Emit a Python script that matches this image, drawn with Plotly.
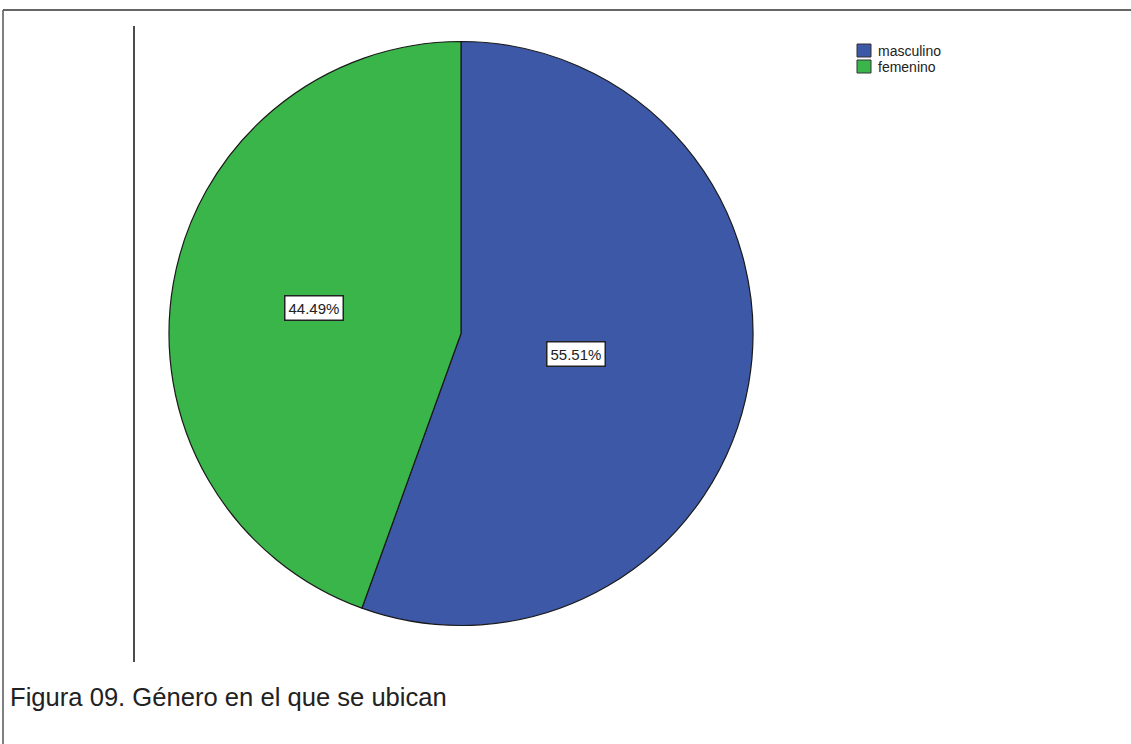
import math
import plotly.graph_objects as go

labels = ["masculino", "femenino"]
values = [55.51, 44.49]
colors = ["#3D58A7", "#39B54A"]
label_radius = [0.40, 0.51]  # fraction of pie radius where SPSS puts the % boxes
caption = "Figura 09. Género en el que se ubican"

W, H = 1131, 744
FONT = "Liberation Sans, Arial, sans-serif"
dom_x = [169 / W, 753 / W]
dom_y = [1 - 626 / H, 1 - 41 / H]
cx_px = (dom_x[0] + dom_x[1]) / 2 * W
cy_px = (1 - (dom_y[0] + dom_y[1]) / 2) * H
R_px = min((dom_x[1] - dom_x[0]) * W, (dom_y[1] - dom_y[0]) * H) / 2

fig = go.Figure()
fig.add_trace(go.Pie(
    labels=labels, values=values, sort=False, direction="clockwise", rotation=0,
    marker=dict(colors=colors, line=dict(color="#1a1a1a", width=1.2)),
    textinfo="none", hoverinfo="label+percent",
    domain=dict(x=dom_x, y=dom_y), showlegend=False,
))

total = sum(values)
cum = 0.0
annotations = []
for v, rf in zip(values, label_radius):
    mid = (cum + v / 2) / total * 2 * math.pi
    cum += v
    px = cx_px + rf * R_px * math.sin(mid)
    py = cy_px - rf * R_px * math.cos(mid)
    annotations.append(dict(
        x=px / W, y=1 - py / H, xref="paper", yref="paper",
        xanchor="center", yanchor="middle",
        text=f"{v / total * 100:.2f}%", showarrow=False,
        font=dict(family=FONT, size=15, color="#222"),
        bgcolor="white", bordercolor="#222", borderwidth=1.5, borderpad=3,
    ))

# manual legend (SPSS style, tight rows)
shapes = []
leg_x, leg_y, sq, row = 857, 44, 14, 16
for i, (lab, col) in enumerate(zip(labels, colors)):
    y0 = leg_y + i * row
    shapes.append(dict(type="rect", xref="paper", yref="paper",
                       x0=leg_x / W, x1=(leg_x + sq) / W,
                       y0=1 - (y0 + sq - 1) / H, y1=1 - y0 / H,
                       fillcolor=col, line=dict(color="#333", width=1)))
    annotations.append(dict(
        x=(leg_x + sq + 5) / W, y=1 - (y0 + sq / 2) / H, xref="paper", yref="paper",
        xanchor="left", yanchor="middle", text=lab, showarrow=False,
        font=dict(family=FONT, size=14, color="#222"),
    ))

annotations.append(dict(
    x=8 / W, y=1 - 697 / H, xref="paper", yref="paper", xanchor="left", yanchor="middle",
    text=caption, showarrow=False,
    font=dict(family=FONT, size=25.6, color="#222"),
))

shapes += [
    dict(type="line", xref="paper", yref="paper", x0=3 / W, x1=1, y0=1 - 10 / H, y1=1 - 10 / H,
         line=dict(color="#333", width=1.5)),
    dict(type="line", xref="paper", yref="paper", x0=3 / W, x1=3 / W, y0=0, y1=1 - 10 / H,
         line=dict(color="#555", width=1.5)),
    dict(type="line", xref="paper", yref="paper", x0=134 / W, x1=134 / W, y0=1 - 662 / H, y1=1 - 26 / H,
         line=dict(color="#111", width=1.5)),
]

fig.update_layout(
    width=W, height=H, margin=dict(l=0, r=0, t=0, b=0),
    paper_bgcolor="white", plot_bgcolor="white",
    showlegend=False,
    annotations=annotations, shapes=shapes,
)

fig.write_html("out.html", config={"displayModeBar": False},
               post_script="document.body.style.margin='0';document.body.style.overflow='hidden';")
